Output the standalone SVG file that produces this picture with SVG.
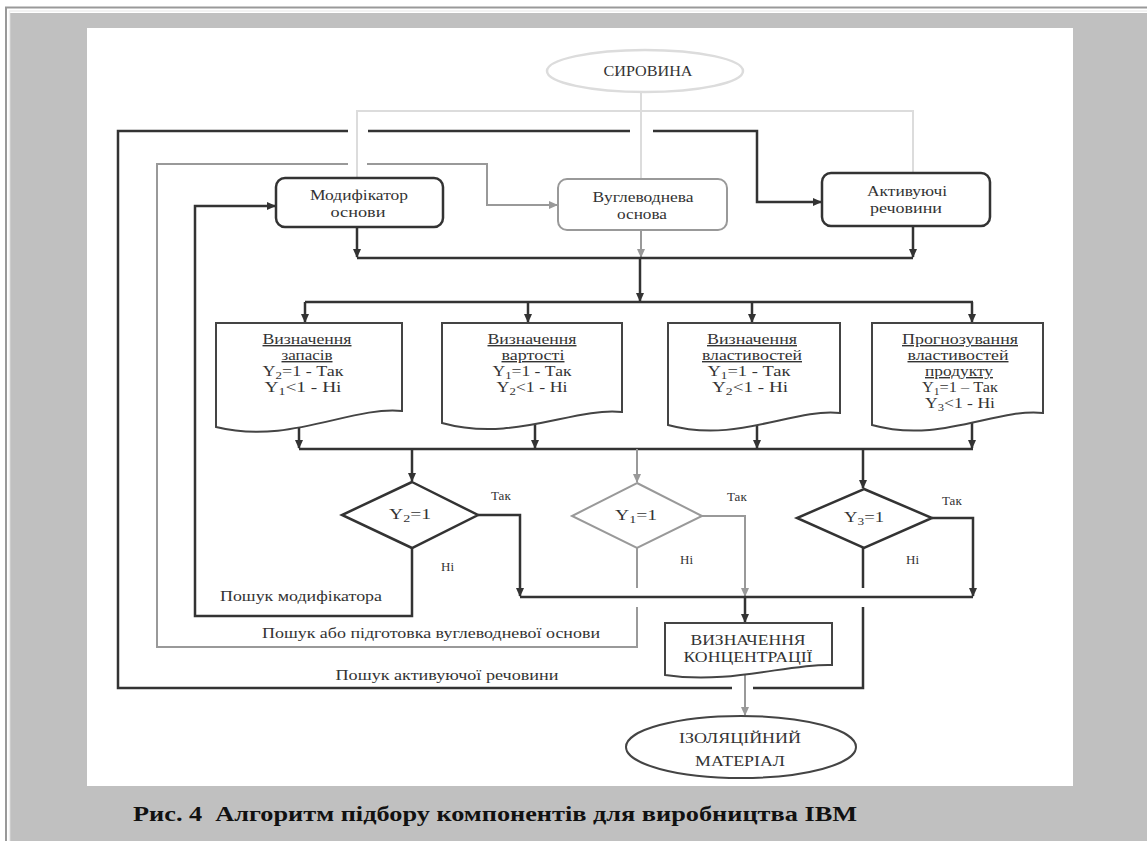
<svg xmlns="http://www.w3.org/2000/svg" width="1147" height="841" viewBox="0 0 1147 841">
<style>
text{font-family:"Liberation Serif","Times New Roman",serif;fill:#333;}
.t{font-size:14px;text-anchor:middle;}
.u{text-decoration:underline;}
.lbl{font-size:13px;}
.dk{fill:none;stroke:#333;stroke-width:2.5;}
.gr{fill:none;stroke:#999;stroke-width:2;}
.lt{fill:none;stroke:#dcdcdc;stroke-width:2;}
.ad{marker-end:url(#ad);}
.ag{marker-end:url(#ag);}
.nd{fill:#fff;stroke:#333;stroke-width:2.5;}
.ng{fill:#fff;stroke:#999;stroke-width:2;}
</style>
<defs>
<marker id="ad" markerUnits="userSpaceOnUse" markerWidth="9" markerHeight="8" refX="8" refY="4" orient="auto"><path d="M0,0 L9,4 L0,8 z" fill="#333"/></marker>
<marker id="ag" markerUnits="userSpaceOnUse" markerWidth="9" markerHeight="8" refX="8" refY="4" orient="auto"><path d="M0,0 L9,4 L0,8 z" fill="#999"/></marker>
</defs>
<rect width="1147" height="841" fill="#fff"/>
<rect x="10" y="13" width="1137" height="828" fill="#c0c0c0"/>
<path d="M6,841 V7.5 H1147" fill="none" stroke="#999" stroke-width="2"/>
<path d="M9.5,841 V11 H1147" fill="none" stroke="#eee" stroke-width="1.5"/>
<rect x="87" y="28" width="986" height="758" fill="#fff"/>

<g id="connectors">
<path class="lt" d="M641,92 V178"/>
<path class="lt" d="M357,177 V111 H913 V173"/>
<path class="dk" d="M863,548 V588"/>
<path class="dk" d="M863,607 V688 H753"/>
<path class="dk" d="M732,688 H118 V131 H348"/>
<path class="dk" d="M368,131 H630"/>
<path class="dk ad" d="M653,131 H757 V202 H821"/>
<path class="dk ad" d="M412,548 V616 H195 V206 H275"/>
<path class="dk ad" d="M357,227 V257"/>
<path class="dk ad" d="M913,226 V257"/>
<path class="gr ag" d="M641,230 V257"/>
<path class="dk" d="M357,258 H913"/>
<path class="dk ad" d="M640,258 V301"/>
<path class="dk" d="M305,302 H973"/>
<path class="dk ad" d="M305,302 V322"/>
<path class="dk ad" d="M528,302 V322"/>
<path class="dk ad" d="M752,302 V322"/>
<path class="dk ad" d="M972,302 V322"/>
<path class="dk ad" d="M299,420 V448"/>
<path class="dk ad" d="M535,418 V448"/>
<path class="dk ad" d="M757,418 V448"/>
<path class="dk ad" d="M972,418 V448"/>
<path class="dk" d="M299,449 H973"/>
<path class="dk ad" d="M412,449 V481"/>
<path class="gr ag" d="M637,449 V482"/>
<path class="dk ad" d="M863,449 V488"/>
<path class="dk ad" d="M478,515 H520 V596"/>
<path class="dk ad" d="M932,518 H973 V596"/>
<path class="gr ag" d="M702,516 H745 V596"/>
<path class="dk" d="M520,597 H973"/>
<path class="dk ad" d="M745,598 V622"/>
<path class="gr" d="M637,548 V588"/>
<path class="gr" d="M637,607 V647 H157 V164 H348"/>
<path class="gr ag" d="M367,164 H487 V205 H557"/>
<path class="gr ag" d="M745,672 V715"/>
</g>

<g id="syrovyna">
<ellipse cx="645" cy="71" rx="98" ry="21" fill="#fff" stroke="#dcdcdc" stroke-width="2.5"/>
<text class="t" x="648" y="76" textLength="89" lengthAdjust="spacingAndGlyphs">СИРОВИНА</text>
</g>
<g id="modyfikator">
<rect class="nd" x="276" y="178" width="167" height="49" rx="9"/>
<text class="t" x="359" y="200" textLength="98" lengthAdjust="spacingAndGlyphs">Модифікатор</text>
<text class="t" x="358" y="217" textLength="55" lengthAdjust="spacingAndGlyphs">основи</text>
</g>
<g id="vuhlevodneva">
<rect class="ng" x="558" y="179" width="169" height="51" rx="9"/>
<text class="t" x="643" y="202" textLength="101" lengthAdjust="spacingAndGlyphs">Вуглеводнева</text>
<text class="t" x="642" y="219" textLength="50" lengthAdjust="spacingAndGlyphs">основа</text>
</g>
<g id="aktyvuyuchi">
<rect class="nd" x="822" y="173" width="168" height="53" rx="9"/>
<text class="t" x="907" y="196" textLength="80" lengthAdjust="spacingAndGlyphs">Активуючі</text>
<text class="t" x="906" y="213" textLength="72" lengthAdjust="spacingAndGlyphs">речовини</text>
</g>

<g id="doc1">
<path d="M216,323 H402 V411 C350,406 290,445 216,427 Z" fill="#fff" stroke="#444" stroke-width="2"/>
<text class="t u" x="307" y="344" textLength="89" lengthAdjust="spacingAndGlyphs">Визначення</text>
<text class="t u" x="307" y="360" textLength="51" lengthAdjust="spacingAndGlyphs">запасів</text>
<text class="t" x="303" y="376" textLength="81" lengthAdjust="spacingAndGlyphs">Y<tspan font-size="10" dy="3">2</tspan><tspan dy="-3">=1 - Так</tspan></text>
<text class="t" x="303" y="392" textLength="77" lengthAdjust="spacingAndGlyphs">Y<tspan font-size="10" dy="3">1</tspan><tspan dy="-3">&lt;1 - Ні</tspan></text>
</g>
<g id="doc2">
<path d="M442,323 H622 V412 C572,407 514,443 442,423 Z" fill="#fff" stroke="#444" stroke-width="2"/>
<text class="t u" x="532" y="344" textLength="89" lengthAdjust="spacingAndGlyphs">Визначення</text>
<text class="t u" x="533" y="360" textLength="63" lengthAdjust="spacingAndGlyphs">вартості</text>
<text class="t" x="532" y="376" textLength="79" lengthAdjust="spacingAndGlyphs">Y<tspan font-size="10" dy="3">1</tspan><tspan dy="-3">=1 - Так</tspan></text>
<text class="t" x="532" y="392" textLength="71" lengthAdjust="spacingAndGlyphs">Y<tspan font-size="10" dy="3">2</tspan><tspan dy="-3">&lt;1 - Ні</tspan></text>
</g>
<g id="doc3">
<path d="M668,323 H840 V413 C792,408 737,444 668,425 Z" fill="#fff" stroke="#444" stroke-width="2"/>
<text class="t u" x="752" y="344" textLength="90" lengthAdjust="spacingAndGlyphs">Визначення</text>
<text class="t u" x="752" y="360" textLength="100" lengthAdjust="spacingAndGlyphs">властивостей</text>
<text class="t" x="749" y="376" textLength="83" lengthAdjust="spacingAndGlyphs">Y<tspan font-size="10" dy="3">1</tspan><tspan dy="-3">=1 - Так</tspan></text>
<text class="t" x="750" y="392" textLength="76" lengthAdjust="spacingAndGlyphs">Y<tspan font-size="10" dy="3">2</tspan><tspan dy="-3">&lt;1 - Ні</tspan></text>
</g>
<g id="doc4">
<path d="M872,323 H1043 V413 C995,408 940,444 872,425 Z" fill="#fff" stroke="#444" stroke-width="2"/>
<text class="t u" x="960" y="344" textLength="116" lengthAdjust="spacingAndGlyphs">Прогнозування</text>
<text class="t u" x="958" y="360" textLength="101" lengthAdjust="spacingAndGlyphs">властивостей</text>
<text class="t u" x="959" y="376" textLength="68" lengthAdjust="spacingAndGlyphs">продукту</text>
<text class="t" x="960" y="392" textLength="76" lengthAdjust="spacingAndGlyphs">Y<tspan font-size="10" dy="3">1</tspan><tspan dy="-3">=1 – Так</tspan></text>
<text class="t" x="960" y="408" textLength="70" lengthAdjust="spacingAndGlyphs">Y<tspan font-size="10" dy="3">3</tspan><tspan dy="-3">&lt;1 - Ні</tspan></text>
</g>

<g id="dec-y2">
<polygon class="nd" points="412,482 478,515 412,548 342,515"/>
<text class="t" x="410" y="519" textLength="42" lengthAdjust="spacingAndGlyphs">Y<tspan font-size="10" dy="3">2</tspan><tspan dy="-3">=1</tspan></text>
<text class="lbl" x="491" y="500">Так</text>
<text class="lbl" x="441" y="571">Ні</text>
</g>
<g id="dec-y1">
<polygon class="ng" points="637,483 702,516 637,548 572,516"/>
<text class="t" x="636" y="520" textLength="42" lengthAdjust="spacingAndGlyphs">Y<tspan font-size="10" dy="3">1</tspan><tspan dy="-3">=1</tspan></text>
<text class="lbl" x="727" y="501">Так</text>
<text class="lbl" x="680" y="564">Ні</text>
</g>
<g id="dec-y3">
<polygon class="nd" points="864,489 932,518 864,548 797,518"/>
<text class="t" x="864" y="522" textLength="40" lengthAdjust="spacingAndGlyphs">Y<tspan font-size="10" dy="3">3</tspan><tspan dy="-3">=1</tspan></text>
<text class="lbl" x="942" y="505">Так</text>
<text class="lbl" x="906" y="564">Ні</text>
</g>

<g id="concentration">
<path d="M665,623 H832 V665 C790,663 730,685 665,675 Z" fill="#fff" stroke="#444" stroke-width="2"/>
<text class="t" x="748" y="645" textLength="115" lengthAdjust="spacingAndGlyphs">ВИЗНАЧЕННЯ</text>
<text class="t" x="748" y="662" textLength="129" lengthAdjust="spacingAndGlyphs">КОНЦЕНТРАЦІЇ</text>
</g>
<g id="material">
<ellipse cx="741" cy="747" rx="115" ry="31" fill="#fff" stroke="#444" stroke-width="2"/>
<text class="t" x="740" y="743" textLength="122" lengthAdjust="spacingAndGlyphs">ІЗОЛЯЦІЙНИЙ</text>
<text class="t" x="740" y="766" textLength="90" lengthAdjust="spacingAndGlyphs">МАТЕРІАЛ</text>
</g>

<g id="labels">
<text class="t" x="301" y="601" textLength="162" lengthAdjust="spacingAndGlyphs">Пошук модифікатора</text>
<text class="t" x="431" y="638" textLength="338" lengthAdjust="spacingAndGlyphs">Пошук або підготовка вуглеводневої основи</text>
<text class="t" x="447" y="680" textLength="223" lengthAdjust="spacingAndGlyphs">Пошук активуючої речовини</text>
</g>

<text x="133" y="821" font-size="21" font-weight="bold" style="fill:#111;white-space:pre" textLength="724" lengthAdjust="spacingAndGlyphs">Рис. 4  Алгоритм підбору компонентів для виробництва ІВМ</text>
</svg>
